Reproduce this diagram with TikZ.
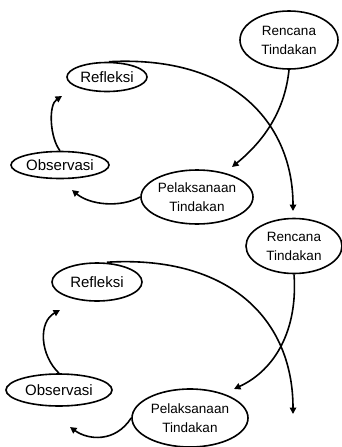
\documentclass[tikz,border=0pt]{standalone}
\usepackage{fontspec}
\setmainfont{Liberation Sans}
\usetikzlibrary{shapes.geometric,arrows.meta}
\tikzset{
  stage/.style={draw=black, line width=1.6pt, ellipse, inner sep=0pt, fill=white},
  one/.style={font=\fontsize{15}{19}\selectfont},
  two/.style={font=\fontsize{13.5}{19}\selectfont, align=center},
  flow/.style={line width=1.6pt, -{Triangle[length=6.5pt,width=6.5pt]}}
}
\begin{document}
\begin{tikzpicture}[x=1pt,y=-1pt]
\useasboundingbox (0,0) rectangle (342,447);
% top cycle
\node[stage,two,minimum width=98pt,minimum height=58pt] (ren1) at (289,40) {Rencana\\Tindakan};
\node[stage,one,minimum width=80pt,minimum height=29pt] (ref1) at (107,77) {Refleksi};
\node[stage,one,minimum width=98pt,minimum height=27pt] (obs1) at (60,165) {Observasi};
\node[stage,two,minimum width=112pt,minimum height=54pt] (pel1) at (197,197) {Pelaksanaan\\Tindakan};
% bottom cycle
\node[stage,two,minimum width=96pt,minimum height=55pt] (ren2) at (294,246) {Rencana\\Tindakan};
\node[stage,one,minimum width=90pt,minimum height=38pt] (ref2) at (97,282) {Refleksi};
\node[stage,one,minimum width=106pt,minimum height=32pt] (obs2) at (59,390) {Observasi};
\node[stage,two,minimum width=116pt,minimum height=58pt] (pel2) at (190,418) {Pelaksanaan\\Tindakan};
% free arrow ends
\coordinate (e1) at (232,167);
\coordinate (e2) at (293,211);
\coordinate (e3) at (62,96);
\coordinate (e4) at (72,190);
\coordinate (e5) at (234,389);
\coordinate (e6) at (293,414);
\coordinate (e7) at (60,310);
\coordinate (e8) at (70,427);
% top edges
\draw[flow] (ren1.south) .. controls ++(-4,40) and (265,140) .. (e1);
\draw[flow] ([xshift=2pt]ref1.north) .. controls (235,55) and (293,125) .. (e2);
\draw[flow] (obs1.north) .. controls (50,138) and (48,105) .. (e3);
\draw[flow] (pel1.west) .. controls (120,208) and (90,205) .. (e4);
% bottom edges
\draw[flow] (ren2.south) .. controls (298,330) and (275,370) .. (e5);
\draw[flow] ([xshift=10pt]ref2.north) .. controls (230,255) and (293,320) .. (e6);
\draw[flow] (obs2.north) .. controls (40,355) and (38,322) .. (e7);
\draw[flow] (pel2.west) .. controls (115,443) and (88,440) .. (e8);
\end{tikzpicture}
\end{document}
